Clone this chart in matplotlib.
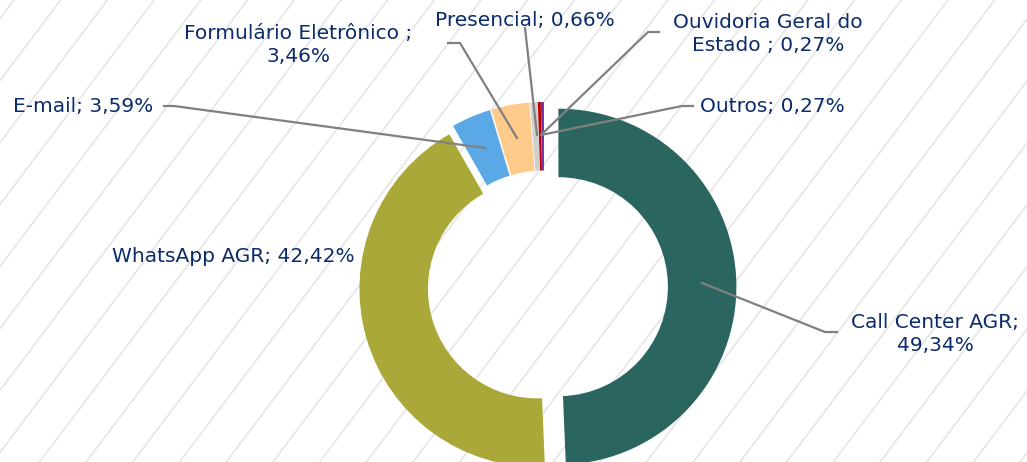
import matplotlib.pyplot as plt
import numpy as np

# dados (percentual de manifestações por canal)
categorias = ['Call Center AGR', 'WhatsApp AGR', 'E-mail', 'Formulário Eletrônico',
              'Presencial', 'Ouvidoria Geral do Estado', 'Outros']
percentuais = [49.34, 42.42, 3.59, 3.46, 0.66, 0.27, 0.27]
rotulos = ['Call Center AGR;\n49,34%', 'WhatsApp AGR; 42,42%', 'E-mail; 3,59%',
           'Formulário Eletrônico ;\n3,46%', 'Presencial; 0,66%',
           'Ouvidoria Geral do\nEstado ; 0,27%', 'Outros; 0,27%']
cores = ['#2a665f', '#a9a838', '#5aa9e6', '#fecb8b', '#cfcfcf', '#c00000', '#7030a0']

# posicao dos rotulos (pixels) e linhas de chamada
pos_rotulos = [(935, 334), (233, 256), (83, 107), (298, 45), (525, 20), (768, 34), (772, 107)]
chamadas = [
    [(837, 332), (825, 332), (702, 283)],
    None,
    [(164, 106), (174, 106), (485, 148)],
    [(448, 43), (460, 43), (517, 138)],
    [(525, 28), (537, 135)],
    [(659, 32), (648, 32), (542, 134)],
    [(693, 106), (682, 106), (541, 135)],
]
destaque = [14.4, 6.8, 7, 7, 7, 7, 7]

cor_texto = '#0b2b6b'

fig = plt.figure(figsize=(10.27, 4.62), dpi=100)
ax = fig.add_axes([0, 0, 1, 1])

# fundo listrado
inc = 462 / np.tan(np.radians(53))
for x0 in np.arange(14 - 46.7 * 2, 1027 + inc + 50, 46.7):
    ax.plot([x0, x0 - inc], [0, 462], color='#e4e4e4', lw=1.1, zorder=0)

ax.pie(percentuais, colors=cores, startangle=-90, counterclock=True,
       center=(544, 287), radius=178, explode=destaque,
       wedgeprops=dict(width=68.5, linewidth=0))

for rot, (x, y), ch in zip(rotulos, pos_rotulos, chamadas):
    if ch is not None:
        xs, ys = zip(*ch)
        ax.plot(xs, ys, color='#808080', lw=1.6, zorder=3)
    ax.text(x, y, rot, ha='center', va='center', multialignment='center',
            fontsize=14.5, color=cor_texto, linespacing=1.3, zorder=4)

ax.set_xlim(0, 1027)
ax.set_ylim(462, 0)
ax.axis('off')

fig.savefig('out.png', dpi=100)
